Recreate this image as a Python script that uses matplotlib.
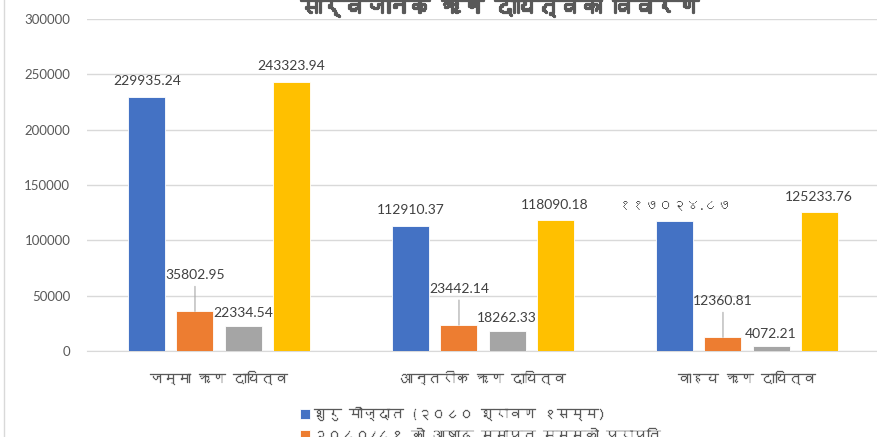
import matplotlib
matplotlib.use("Agg")
import matplotlib.pyplot as plt
import matplotlib.patheffects as pe
from matplotlib import font_manager
from matplotlib.ft2font import FT2Font
from matplotlib.lines import Line2D
import numpy as np

categories = ['जम्मा ऋण दायित्व', 'आन्तरीक ऋण दायित्व', 'वाहय ऋण दायित्व']
series_names = ['शुरु मौज्दात (२०८० श्रावण १सम्म)',
                '२०८०/८१ को आषाढ समाप्त सम्मको प्राप्ति',
                '२०८०/८१ को आषाढ समाप्त सम्मको भुक्तानी',
                '२०८१ आषाढ मसान्त सम्मको बाँकी']
opening = [229935.24, 112910.37, 117024.87]
received = [35802.95, 23442.14, 12360.81]
paid = [22334.54, 18262.33, 4072.21]
closing = [243323.94, 118090.18, 125233.76]
opening_labels = ['229935.24', '112910.37', '११७०२४.८७']
yticks = [0, 50000, 100000, 150000, 200000, 250000, 300000]
title = 'सार्वजनिक ऋण दायित्वको विवरण'

colors = ['#4472C4', '#ED7D31', '#A5A5A5', '#FFC000']
txt = '#595959'


# look for any installed font that can draw Devanagari
def find_deva_font():
    seen = set()
    for f in font_manager.fontManager.ttflist:
        if f.fname in seen:
            continue
        seen.add(f.fname)
        try:
            cmap = FT2Font(f.fname).get_charmap()
        except Exception:
            continue
        if ord('क') in cmap and ord('०') in cmap:
            return f.name
    return None


deva = find_deva_font()
deva_fams = ([deva] if deva else []) + ['DejaVu Sans']
# latin digits from Lato, devanagari falls through to the other font
plt.rcParams['font.family'] = ['Lato'] + deva_fams

fig = plt.figure(figsize=(8.77, 4.37), dpi=100)
ax = fig.add_axes([87 / 877, 1 - 351 / 437, 792 / 877, 332 / 437])

x = np.arange(len(categories))
step = 0.182
w = 0.14
series = [opening, received, paid, closing]
for i, vals in enumerate(series):
    ax.bar(x + (i - 1.5) * step, vals, w, color=colors[i], label=series_names[i],
           edgecolor='white', linewidth=0.6, zorder=3)

lab_kw = dict(fontsize=10, color='#404040', ha='center', va='bottom')
for j in range(3):
    ax.annotate(opening_labels[j], (x[j] - 1.5 * step, opening[j]),
                xytext=(0, 7), textcoords='offset points', **lab_kw)
    ax.annotate(f'{closing[j]:.2f}', (x[j] + 1.5 * step, closing[j]),
                xytext=(0, 7), textcoords='offset points', **lab_kw)
    ax.annotate(f'{paid[j]:.2f}', (x[j] + 0.5 * step, paid[j]),
                xytext=(0, 5), textcoords='offset points', **lab_kw)

# orange labels sit higher with a leader line
for j in range(3):
    ax.annotate(f'{received[j]:.2f}', (x[j] - 0.5 * step, received[j]),
                xytext=(0, 22), textcoords='offset points',
                arrowprops=dict(arrowstyle='-', color='#a6a6a6', lw=0.8,
                                shrinkA=2, shrinkB=0),
                **lab_kw)

ax.set_xlim(-0.5, 2.5)
ax.set_ylim(0, 300000)
ax.set_yticks(yticks)
ax.set_yticklabels([str(v) for v in yticks])
ax.set_xticks(x)
ax.set_xticklabels(categories, family=deva_fams)
ax.tick_params(axis='y', length=0, pad=12, labelsize=9.5, labelcolor=txt)
ax.tick_params(axis='x', length=0, pad=14, labelsize=10, labelcolor=txt)
for t in ax.get_xticklabels():
    t.set_path_effects([pe.withStroke(linewidth=0.2, foreground=txt)])
ax.grid(axis='y', color='#d9d9d9', lw=1, zorder=0)
for s in ['top', 'right', 'left']:
    ax.spines[s].set_visible(False)
ax.spines['bottom'].set_color('#d9d9d9')

fig.text(0.57, 1 - 7 / 437, title, ha='center', va='center', family=deva_fams,
         fontsize=15.5, fontweight='bold', color=txt,
         path_effects=[pe.withStroke(linewidth=1.6, foreground=txt)])

leg = fig.legend(loc='upper left', bbox_to_anchor=(293 / 877, 1 - 399 / 437),
                 frameon=False, handlelength=0.7, handleheight=0.7,
                 handletextpad=0.3, labelspacing=0.45, labelcolor=txt,
                 borderpad=0, prop={'family': deva_fams, 'size': 10})
for t in leg.get_texts():
    t.set_path_effects([pe.withStroke(linewidth=0.2, foreground=txt)])

fig.add_artist(Line2D([3.5 / 877, 3.5 / 877], [0, 1], color='#d9d9d9', lw=1))

fig.savefig('out.png', dpi=100)
